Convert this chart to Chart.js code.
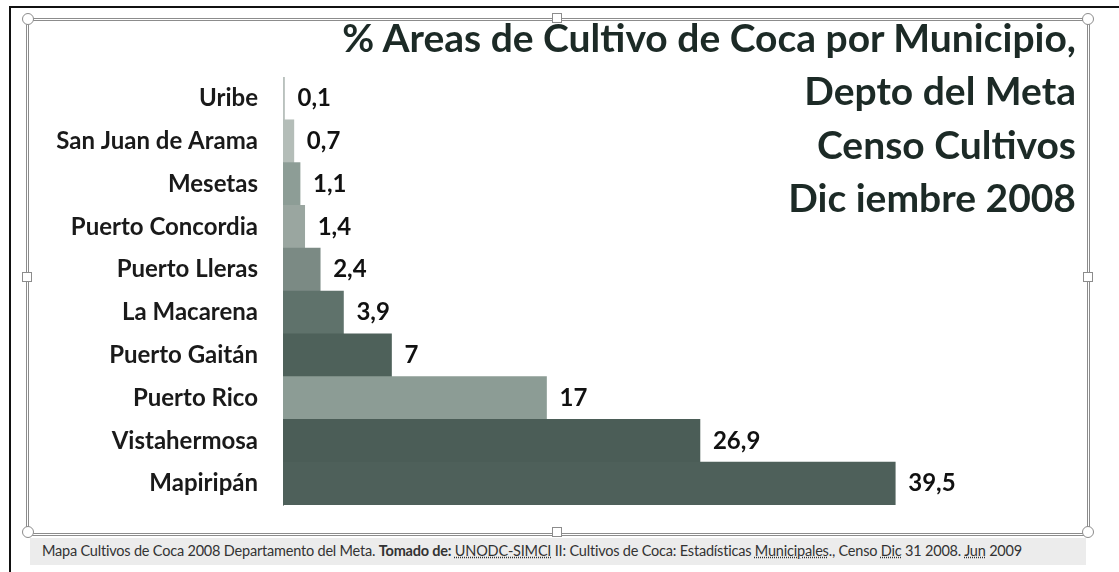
<!DOCTYPE html>
<html>
<head>
<meta charset="utf-8">
<script src="https://cdn.jsdelivr.net/npm/chart.js@4.4.1/dist/chart.umd.min.js"></script>
<style>
  body { margin: 0; background: #fff; }
  #page { position: relative; width: 1119px; height: 572px; overflow: hidden; font-family: Lato, "Noto Sans", sans-serif; }
  #outer { position: absolute; left: 9px; top: 6px; width: 1120px; height: 580px; border-left: 2px solid #111; border-top: 2px solid #111; }
  #frame { position: absolute; left: 26px; top: 18px; width: 1058px; height: 512px; border: 3px double #8c8c8c; }
  .h { position: absolute; width: 10px; height: 10px; border: 1.5px solid #8c8c8c; background: #fff; }
  .c { border-radius: 50%; }
  #footer { position: absolute; left: 30px; top: 538px; width: 1056px; height: 27px; background: #ececec; }
  #footer span { position: absolute; left: 12px; top: 4px; font-size: 14.5px; color: #333; white-space: nowrap; letter-spacing: -0.2px; }
  #footer u { text-decoration-style: dotted; }
  #title { position: absolute; right: 43px; top: 11px; text-align: right; font-size: 39px; font-weight: bold; line-height: 53.4px; color: #1c2a26; }
  #wrap { position: absolute; left: 0; top: 0; width: 1119px; height: 572px; }
</style>
</head>
<body>
<div id="page">
  <div id="outer"></div>
  <div id="frame"></div>
  <div class="h c" style="left:22px;top:13px"></div>
  <div class="h c" style="left:1082px;top:13px"></div>
  <div class="h c" style="left:22px;top:526px"></div>
  <div class="h c" style="left:1082px;top:526px"></div>
  <div class="h" style="left:552px;top:13px;width:8px;height:8px"></div>
  <div class="h" style="left:552px;top:527px;width:8px;height:8px"></div>
  <div class="h" style="left:22px;top:272px;width:8px;height:8px"></div>
  <div class="h" style="left:1083px;top:272px;width:8px;height:8px"></div>
  <div id="footer"><span>Mapa Cultivos de Coca 2008 Departamento del Meta. <b>Tomado de:</b> <u>UNODC-SIMCI</u> II: Cultivos de Coca: Estadísticas <u>Municipales</u>., Censo <u>Dic</u> 31 2008. <u>Jun</u> 2009</span></div>
  <div id="wrap"><canvas id="grafico"></canvas></div>
  <div id="title">% Areas de Cultivo de Coca por Municipio,<br>Depto del Meta<br>Censo Cultivos<br>Dic iembre 2008</div>
</div>
<script>
const municipios = ["Uribe", "San Juan de Arama", "Mesetas", "Puerto Concordia", "Puerto Lleras",
    "La Macarena", "Puerto Gaitán", "Puerto Rico", "Vistahermosa", "Mapiripán"];
const porcentajes = [0.1, 0.7, 1.1, 1.4, 2.4, 3.9, 7, 17, 26.9, 39.5];

const colores = ["#b9c1bd", "#b4bdb8", "#8d9d96", "#9aa6a0", "#7b8a84",
    "#5f726b", "#4e615a", "#8c9c95", "#4b5d57", "#4e605a"];

// etiquetas de valor con coma decimal
const etiquetasValor = {
    id: "etiquetasValor",
    afterDatasetsDraw(chart) {
        const ctx = chart.ctx;
        const meta = chart.getDatasetMeta(0);
        ctx.save();
        ctx.font = "bold 24px Lato";
        ctx.fillStyle = "#111";
        ctx.textAlign = "left";
        ctx.textBaseline = "middle";
        meta.data.forEach((bar, i) => {
            const texto = String(porcentajes[i]).replace(".", ",");
            ctx.fillText(texto, bar.x + 13, bar.y);
        });
        ctx.restore();
    }
};

new Chart(document.getElementById("grafico"), {
    type: "bar",
    data: {
        labels: municipios,
        datasets: [{
            data: porcentajes,
            backgroundColor: colores,
            borderWidth: 0,
            categoryPercentage: 1,
            barPercentage: 1
        }]
    },
    options: {
        indexAxis: "y",
        responsive: true,
        maintainAspectRatio: false,
        animation: false,
        layout: { padding: { left: 0, top: 77, right: 61, bottom: 67 } },
        plugins: {
            legend: { display: false },
            tooltip: { enabled: false }
        },
        scales: {
            x: { display: false, min: 0, max: 50 },
            y: {
                afterFit(scale) { scale.width = 283; },
                grid: { display: false, drawTicks: false },
                border: { display: true, color: "#9a9a9a", width: 1 },
                ticks: {
                    padding: 25,
                    color: "#1a1a1a",
                    font: { family: "Lato", size: 24, weight: "bold" }
                }
            }
        }
    },
    plugins: [etiquetasValor]
});
</script>
</body>
</html>
